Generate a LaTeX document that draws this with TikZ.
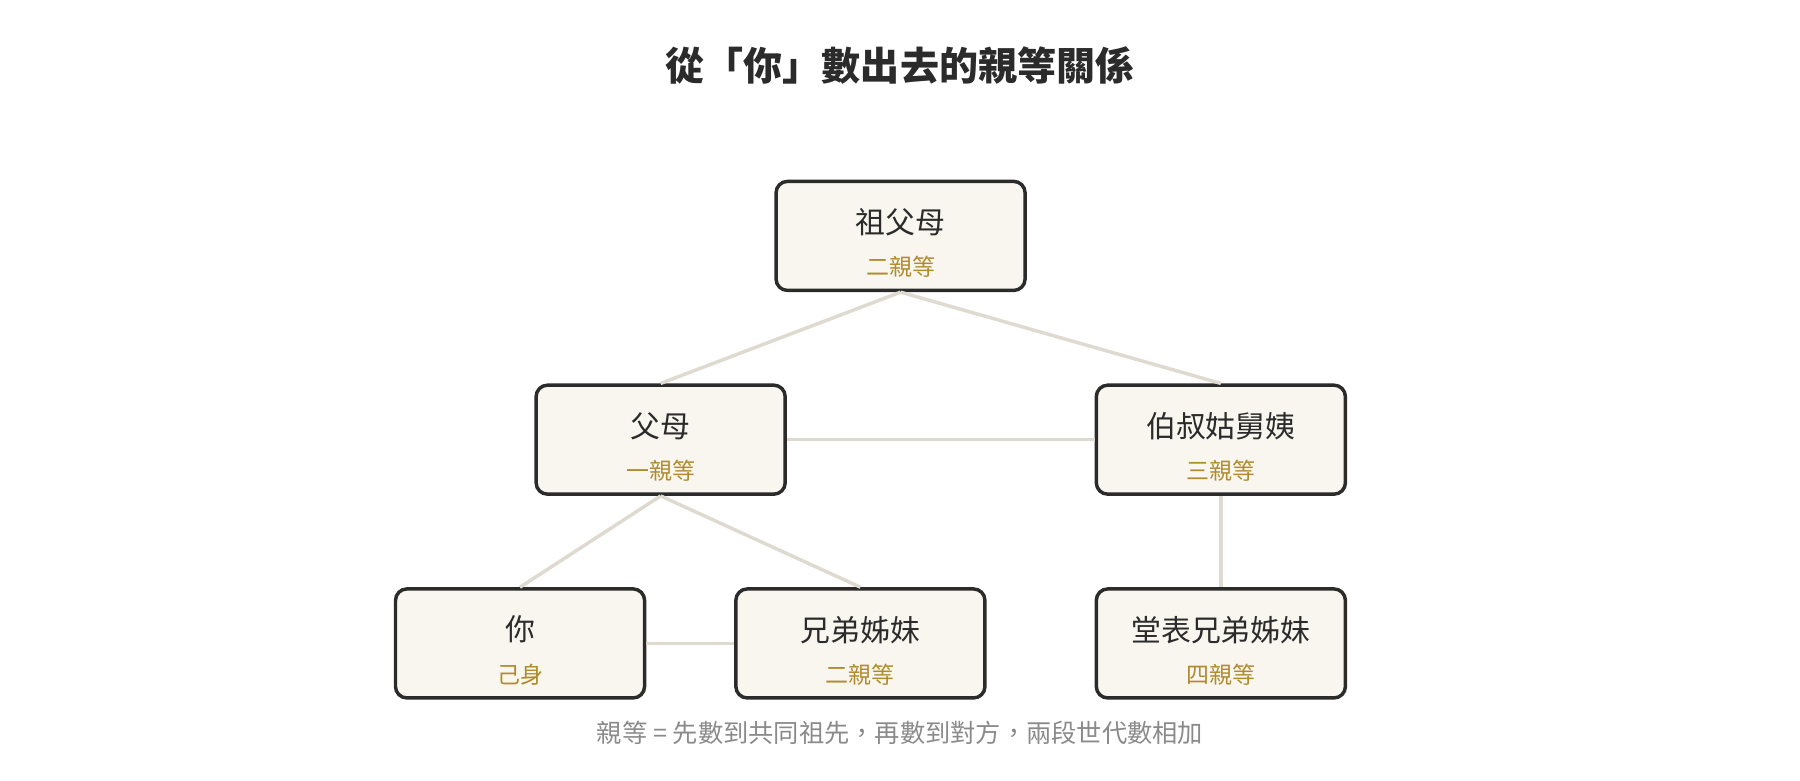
\documentclass[tikz,border=0pt]{standalone}
\usepackage{fontspec}
\setmainfont{Noto Sans CJK TC}
\usetikzlibrary{positioning}
\definecolor{boxfill}{HTML}{F8F6EF}
\definecolor{boxline}{HTML}{2B2B2B}
\definecolor{linkline}{HTML}{DEDAD0}
\definecolor{degree}{HTML}{B08A2E}
\definecolor{notegray}{HTML}{8A8A8A}
\tikzset{
  kin/.style={draw=boxline,fill=boxfill,line width=1.5pt,rounded corners=5pt,
    minimum width=108.5pt,minimum height=47.5pt,inner sep=0pt},
  who/.style={font=\fontsize{13}{15}\selectfont,text=boxline},
  deg/.style={font=\fontsize{10}{12}\selectfont,text=degree},
  link/.style={draw=linkline,line width=1.5pt}
}
\newcommand{\kinbox}[5]{%
  \node[kin] (#1) at (#2,#3) {};
  \node[who] (#1-t) at ([yshift=6pt]#1.center) {#4};
  \node[deg] (#1-d) at ([yshift=-13.5pt]#1.center) {#5};
}
\begin{document}
\begin{tikzpicture}[x=0.5pt,y=-0.5pt]
\useasboundingbox (0,0) rectangle (1568,680);
% title
\node[font=\bfseries\fontsize{17}{20}\selectfont,text=boxline] (title) at (784,57) {從「你」數出去的親等關係};
% links first, boxes on top
\coordinate (gp) at (784.5,205.5);
\kinbox{gp}{784.5}{205.5}{祖父母}{二親等}
\kinbox{par}{575.5}{383}{父母}{一親等}
\kinbox{unc}{1063.5}{383}{伯叔姑舅姨}{三親等}
\kinbox{me}{453}{560.5}{你}{己身}
\kinbox{sib}{749.5}{560.5}{兄弟姊妹}{二親等}
\kinbox{cou}{1063.5}{560.5}{堂表兄弟姊妹}{四親等}
\begin{scope}[on background layer/.style={}]
\draw[link] (gp.south) -- (par.north);
\draw[link] (gp.south) -- (unc.north);
\draw[link] (par.east) -- (unc.west);
\draw[link] (par.south) -- (me.north);
\draw[link] (par.south) -- (sib.north);
\draw[link] (me.east) -- (sib.west);
\draw[link] (unc.south) -- (cou.north);
\end{scope}
% note
\node[font=\fontsize{11}{13}\selectfont,text=notegray] (note) at (784,638) {親等 = 先數到共同祖先，再數到對方，兩段世代數相加};
\end{tikzpicture}
\end{document}
